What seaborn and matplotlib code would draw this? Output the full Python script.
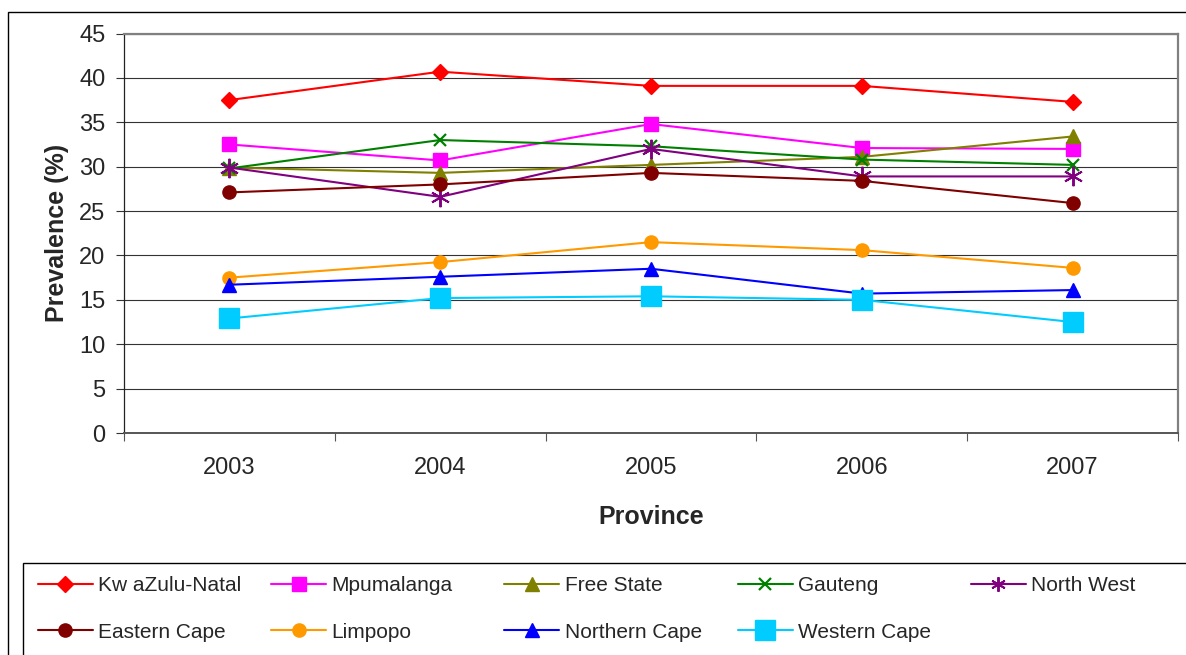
import numpy as np
import pandas as pd
import matplotlib
matplotlib.use("Agg")
import matplotlib.pyplot as plt
from matplotlib.lines import Line2D
from matplotlib.patches import Rectangle
import seaborn as sns

# ---------------- data ----------------
years = [2003, 2004, 2005, 2006, 2007]
provinces = ["Kw aZulu-Natal", "Mpumalanga", "Free State", "Gauteng", "North West",
             "Eastern Cape", "Limpopo", "Northern Cape", "Western Cape"]
kwazulu_natal = [37.5, 40.7, 39.1, 39.1, 37.3]
mpumalanga = [32.5, 30.7, 34.8, 32.1, 32.0]
free_state = [29.9, 29.3, 30.2, 31.1, 33.4]
gauteng = [29.8, 33.0, 32.3, 30.8, 30.2]
north_west = [29.9, 26.6, 32.0, 28.9, 28.9]
eastern_cape = [27.1, 28.0, 29.3, 28.4, 25.9]
limpopo = [17.5, 19.25, 21.5, 20.6, 18.6]
northern_cape = [16.7, 17.6, 18.5, 15.7, 16.1]
western_cape = [12.9, 15.2, 15.4, 15.0, 12.5]
series = [kwazulu_natal, mpumalanga, free_state, gauteng, north_west,
          eastern_cape, limpopo, northern_cape, western_cape]
y_ticks = [0, 5, 10, 15, 20, 25, 30, 35, 40, 45]

df = pd.DataFrame({
    "Province": np.repeat(provinces, len(years)),
    "Year": years * len(provinces),
    "Prevalence": np.concatenate(series),
})

# ---------------- styles ----------------
colors = ["#FF0000", "#FF00FF", "#808000", "#008000", "#800080",
          "#800000", "#FF9900", "#0000FF", "#00CCFF"]
markers = ["D", "s", "^", "x", (6, 2, 0), "o", "o", "^", "s"]
msizes = [8.5, 9.5, 9.5, 8.5, 14, 9.5, 9.5, 9.5, 15]
leg_msizes = [8.5, 9.5, 9.5, 8.5, 10.5, 9.5, 9.5, 9.5, 15]
mews = [1, 1, 1, 1.6, 1.4, 1, 1, 1, 1]

sns.set_style("white")
plt.rcParams["font.family"] = ["Liberation Sans", "DejaVu Sans"]

W, H = 1186, 655
fig = plt.figure(figsize=(W / 100, H / 100), dpi=100)
ax = fig.add_axes([124 / W, 1 - 433 / H, (1178 - 124) / W, (433 - 33.5) / H])

for prov, c, m, ms, mew in zip(provinces, colors, markers, msizes, mews):
    sub = df[df["Province"] == prov]
    sns.lineplot(data=sub, x="Year", y="Prevalence", ax=ax, color=c,
                 marker=m, markersize=ms, markeredgecolor=c, markerfacecolor=c,
                 markeredgewidth=mew, linewidth=1.5, legend=False, errorbar=None)

ax.set_xlim(years[0] - 0.5, years[-1] + 0.5)
ax.set_ylim(0, 45)
ax.set_yticks(y_ticks)
ax.set_xticks(years)
ax.set_xticklabels([str(y) for y in years])
ax.set_xticks([y - 0.5 for y in years] + [years[-1] + 0.5], minor=True)

ax.tick_params(axis="y", which="major", direction="out", length=5.8, width=0.8,
               color="#333333", labelsize=17, pad=7.5, left=True)
ax.tick_params(axis="x", which="major", length=0, labelsize=17, pad=17)
ax.tick_params(axis="x", which="minor", direction="out", length=5.8, width=0.8,
               color="#555555", bottom=True)

ax.yaxis.grid(True, color="#333333", linewidth=0.8)
ax.xaxis.grid(False)
ax.set_axisbelow(True)

for s in ["top", "right"]:
    ax.spines[s].set_color("#808080")
    ax.spines[s].set_linewidth(1.6)
ax.spines["left"].set_color("#222222")
ax.spines["left"].set_linewidth(0.9)
ax.spines["bottom"].set_color("#555555")
ax.spines["bottom"].set_linewidth(1.4)

ax.set_xlabel("Province", fontsize=18, fontweight="bold")
ax.set_ylabel("Prevalence (%)", fontsize=18, fontweight="bold")
ax.xaxis.set_label_coords(0.5, (433 - 517) / 399.5)
ax.xaxis.label.set_va("center")
ax.yaxis.set_label_coords((57 - 124) / 1054, (433 - 233) / 399.5)
ax.yaxis.label.set_va("center")

# ---------------- outer chart border ----------------
fig.patches.append(Rectangle((8 / W, -0.2), 1.2, 1.2 + (1 - 12 / H) - 1.0,
                             transform=fig.transFigure, fill=False,
                             edgecolor="#000000", linewidth=1.0))
fig.patches.append(Rectangle((22.7 / W, -0.2), 1.2, 0.2 + (1 - 563.3 / H),
                             transform=fig.transFigure, fill=False,
                             edgecolor="#000000", linewidth=1.0))

# ---------------- legend (5 columns, row-wise order) ----------------
handles = [Line2D([], [], color=c, marker=m, markersize=ms, markeredgecolor=c,
                  markerfacecolor=c, markeredgewidth=mew, linewidth=1.5)
           for c, m, ms, mew in zip(colors, markers, leg_msizes, mews)]
ncol = 5
col_x0 = 37.7
col_pitch = 233.3
for ci in range(ncol):
    idx = [i for i in range(len(provinces)) if i % ncol == ci]
    fig.legend([handles[i] for i in idx], [provinces[i] for i in idx],
               loc="upper left", bbox_to_anchor=((col_x0 + ci * col_pitch) / W, 1 - 576 / H),
               bbox_transform=fig.transFigure, frameon=False, borderpad=0,
               borderaxespad=0, handlelength=2.64, handletextpad=0.25,
               labelspacing=1.33, fontsize=15, numpoints=1)

fig.savefig("out.png", dpi=100)
